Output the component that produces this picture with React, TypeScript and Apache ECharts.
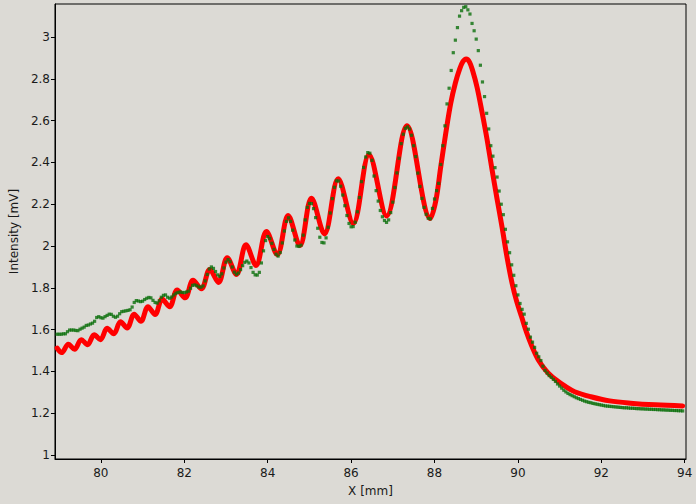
import React, { useEffect, useRef } from "react";
import * as echarts from "echarts";

// Red curve (model) — key points
const RED_X = [
  78.95, 79.06, 79.22, 79.37, 79.53, 79.68, 79.84, 79.99, 80.15, 80.31,
  80.47, 80.63, 80.80, 80.96, 81.13, 81.30, 81.47, 81.65, 81.83, 82.02,
  82.21, 82.41, 82.61, 82.82, 83.03, 83.25, 83.48, 83.72, 83.97, 84.23,
  84.49, 84.77, 85.05, 85.36, 85.69, 86.05, 86.43, 86.85, 87.34, 87.90,
  88.03, 88.15, 88.27, 88.39, 88.50, 88.60, 88.68, 88.76, 88.84, 88.92,
  89.02, 89.14, 89.26, 89.38, 89.50, 89.62, 89.74, 89.86, 89.97, 90.09,
  90.21, 90.33, 90.49, 90.70, 90.92, 91.14, 91.36, 91.75, 92.20, 92.70,
  93.30, 93.95,
];
const RED_Y = [
  1.512, 1.490, 1.530, 1.506, 1.552, 1.528, 1.575, 1.552, 1.606, 1.580,
  1.638, 1.608, 1.674, 1.640, 1.710, 1.672, 1.746, 1.710, 1.790, 1.752,
  1.836, 1.795, 1.888, 1.826, 1.944, 1.864, 2.006, 1.907, 2.070, 1.958,
  2.146, 2.002, 2.229, 2.058, 2.322, 2.108, 2.437, 2.144, 2.576, 2.132,
  2.215, 2.380, 2.540, 2.684, 2.780, 2.845, 2.882, 2.895, 2.880, 2.835,
  2.760, 2.640, 2.510, 2.365, 2.225, 2.090, 1.945, 1.822, 1.735, 1.660,
  1.585, 1.523, 1.455, 1.398, 1.359, 1.328, 1.303, 1.279, 1.259, 1.248,
  1.240, 1.235,
];

// Green measured samples: x from 78.95 in steps of 0.05 mm
const GREEN_X0 = 78.95;
const GREEN_DX = 0.05;
const GREEN_Y = [
  1.578, 1.578, 1.578, 1.580, 1.580, 1.590, 1.598, 1.598, 1.598, 1.596,
  1.595, 1.602, 1.607, 1.612, 1.620, 1.622, 1.627, 1.631, 1.640, 1.658,
  1.662, 1.657, 1.655, 1.662, 1.668, 1.674, 1.673, 1.664, 1.659, 1.664,
  1.676, 1.686, 1.688, 1.690, 1.692, 1.695, 1.708, 1.730, 1.739, 1.737,
  1.734, 1.736, 1.744, 1.750, 1.754, 1.752, 1.740, 1.730, 1.727, 1.738,
  1.755, 1.764, 1.766, 1.755, 1.750, 1.756, 1.766, 1.774, 1.778, 1.780,
  1.778, 1.777, 1.780, 1.784, 1.798, 1.812, 1.814, 1.810, 1.804, 1.803,
  1.809, 1.833, 1.864, 1.890, 1.900, 1.893, 1.878, 1.862, 1.855, 1.867,
  1.895, 1.923, 1.935, 1.925, 1.900, 1.875, 1.865, 1.871, 1.887, 1.906,
  1.922, 1.928, 1.919, 1.897, 1.874, 1.862, 1.861, 1.874, 1.919, 1.977,
  2.026, 2.045, 2.036, 2.013, 1.984, 1.961, 1.952, 1.969, 2.015, 2.072,
  2.118, 2.135, 2.118, 2.076, 2.029, 2.000, 1.998, 2.004, 2.052, 2.125,
  2.185, 2.204, 2.203, 2.179, 2.136, 2.085, 2.042, 2.017, 2.015, 2.039,
  2.090, 2.158, 2.227, 2.281, 2.312, 2.311, 2.286, 2.244, 2.193, 2.146,
  2.108, 2.092, 2.093, 2.114, 2.164, 2.232, 2.308, 2.376, 2.426, 2.447,
  2.444, 2.410, 2.335, 2.265, 2.215, 2.170, 2.140, 2.122, 2.113, 2.125,
  2.160, 2.210, 2.280, 2.350, 2.420, 2.490, 2.535, 2.563, 2.570, 2.560,
  2.530, 2.480, 2.428, 2.349, 2.285, 2.228, 2.185, 2.152, 2.133, 2.130,
  2.180, 2.225, 2.265, 2.300, 2.390, 2.480, 2.575, 2.680, 2.755, 2.840,
  2.925, 2.985, 3.045, 3.100, 3.126, 3.142, 3.145, 3.130, 3.110, 3.065,
  3.030, 2.990, 2.935, 2.865, 2.785, 2.715, 2.635, 2.560, 2.480, 2.430,
  2.375, 2.330, 2.263, 2.200, 2.150, 2.080, 2.020, 1.968, 1.910, 1.860,
  1.810, 1.766, 1.725, 1.697, 1.674, 1.630, 1.602, 1.564, 1.540, 1.515,
  1.487, 1.470, 1.452, 1.425, 1.405, 1.392, 1.380, 1.372, 1.362, 1.352,
  1.340, 1.330, 1.320, 1.310, 1.302, 1.295, 1.289, 1.284, 1.279, 1.274,
  1.270, 1.266, 1.262, 1.258, 1.255, 1.252, 1.250, 1.247, 1.245, 1.243,
  1.241, 1.239, 1.237, 1.235, 1.234, 1.233, 1.232, 1.231, 1.230, 1.229,
  1.228, 1.227, 1.226, 1.226, 1.225, 1.224, 1.224, 1.223, 1.222, 1.222,
  1.221, 1.221, 1.220, 1.220, 1.219, 1.219, 1.218, 1.218, 1.217, 1.217,
  1.216, 1.216, 1.215, 1.215, 1.214, 1.214, 1.213, 1.213, 1.212, 1.212,
  1.211,
];

const X_MIN = 78.9;
const X_MAX = 94.03;
const Y_MIN = 0.981;
const Y_MAX = 3.158;

const BG = "#dcdad5";
const TEXT = "#1a1a1a";

export default function App() {
  const ref = useRef<HTMLDivElement>(null);
  useEffect(() => {
    const chart = echarts.init(ref.current!, null, { renderer: "svg" });
    const red = RED_X.map((x, i) => [x, RED_Y[i]]);
    const green = GREEN_Y.map((y, i) => [+(GREEN_X0 + i * GREEN_DX).toFixed(2), y]);
    chart.setOption({
      animation: false,
      backgroundColor: BG,
      textStyle: { fontFamily: "DejaVu Sans" },
      grid: {
        left: 49, right: 10, top: 4, bottom: 45,
        show: true, borderColor: "#000", borderWidth: 1,
      },
      xAxis: {
        type: "value", min: X_MIN, max: X_MAX, splitNumber: 7,
        name: "X [mm]", nameLocation: "middle", nameGap: 26,
        nameTextStyle: { fontSize: 12, color: TEXT, fontFamily: "DejaVu Sans" },
        axisLine: { show: true, lineStyle: { color: "#000", width: 1 } },
        axisTick: { show: true, length: 4, lineStyle: { color: "#000" } },
        axisLabel: { showMinLabel: false, showMaxLabel: false, margin: 8, fontSize: 12, color: TEXT, fontFamily: "DejaVu Sans" },
        splitLine: { show: false },
      },
      yAxis: {
        type: "value", min: Y_MIN, max: Y_MAX, splitNumber: 11,
        name: "Intensity [mV]", nameLocation: "middle", nameGap: 29,
        nameTextStyle: { fontSize: 12, color: TEXT, fontFamily: "DejaVu Sans" },
        axisLine: { show: true, lineStyle: { color: "#000", width: 1 } },
        axisTick: { show: true, length: 4, lineStyle: { color: "#000" } },
        axisLabel: { showMinLabel: false, showMaxLabel: false, margin: 5, fontSize: 12, color: TEXT, fontFamily: "DejaVu Sans" },
        splitLine: { show: false },
      },
      series: [
        {
          type: "line", data: red, smooth: 0.35, showSymbol: false, symbol: "none",
          lineStyle: { color: "#ff0000", width: 5, cap: "round", join: "round" },
          z: 2,
        },
        {
          type: "scatter", data: green, symbol: "rect", symbolSize: 3.2,
          itemStyle: { color: "#0b6f0b" }, z: 3,
        },
      ],
    });
    return () => chart.dispose();
  }, []);
  return (
    <div
      ref={ref}
      style={{ position: "fixed", left: 0, top: 0, width: 696, height: 504, background: BG }}
    />
  );
}
